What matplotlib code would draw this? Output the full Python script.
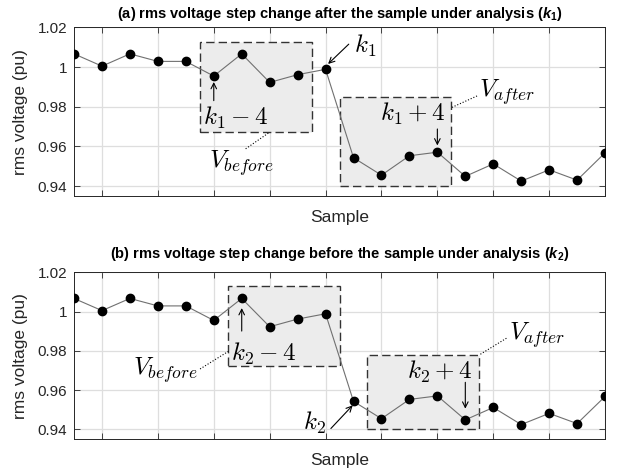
import numpy as np
import matplotlib
matplotlib.use('Agg')
import matplotlib.pyplot as plt
from matplotlib.patches import Rectangle

plt.rcParams['font.family'] = 'Liberation Sans'
plt.rcParams['mathtext.fontset'] = 'cm'
plt.rcParams['mathtext.rm'] = 'Liberation Sans:bold'
plt.rcParams['mathtext.it'] = 'Liberation Sans:bold:italic'

# data (same voltage series in both panels)
samples = np.arange(20)
voltage = [1.0067, 1.0005, 1.0067, 1.0029, 1.0029, 0.9955, 1.0067, 0.9923, 0.9962, 0.9989,
           0.9543, 0.9455, 0.9553, 0.9571, 0.9449, 0.9512, 0.9425, 0.9482, 0.9430, 0.9568]
yticks = [0.94, 0.96, 0.98, 1.0, 1.02]
ytick_labels = ['0.94', '0.96', '0.98', '1', '1.02']

k1 = 9
k2 = 10

titles = [r'(a) rms voltage step change after the sample under analysis ($\mathit{k_1}$)',
          r'(b) rms voltage step change before the sample under analysis ($\mathit{k_2}$)']

fig = plt.figure(figsize=(6.2, 4.74), dpi=100)
ax1 = fig.add_axes([0.1194, 0.5865, 0.8565, 0.3555])
ax2 = fig.add_axes([0.1194, 0.0732, 0.8565, 0.3523])

dark = '#262626'
for ax, title, ty in zip([ax1, ax2], titles, [0.962, 0.4557]):
    ax.plot(samples, voltage, '-', color='#707070', lw=0.8, zorder=3)
    ax.plot(samples, voltage, 'o', color='black', ms=6, zorder=4)
    ax.set_xlim(0, 19)
    ax.set_ylim(0.935, 1.02)
    ax.set_xticks(np.arange(1, 20, 2))
    ax.set_xticklabels([])
    ax.set_yticks(yticks)
    ax.set_yticklabels(ytick_labels)
    ax.tick_params(direction='in', top=True, right=True, length=4, width=0.6,
                   colors=dark, labelsize=11, pad=5)
    ax.grid(True, color='#dedede', lw=0.9)
    ax.set_axisbelow(True)
    for s in ax.spines.values():
        s.set_color(dark)
        s.set_linewidth(0.7)
    ax.set_ylabel('rms voltage (pu)', fontsize=12.5, color=dark, labelpad=7)
    ax.set_xlabel('Sample', fontsize=12.5, color=dark, labelpad=5)
    fig.text(0.1194 + 0.8565 / 2, ty, title, fontsize=10.5, fontweight='bold',
             ha='center', va='baseline', math_fontfamily='custom')

box = dict(facecolor='#ececec', edgecolor='#333333', lw=1.0, linestyle=(0, (6, 3)), zorder=2)
arr = dict(arrowstyle='->', color='black', lw=0.8, shrinkA=0, shrinkB=0)
fs = 18

# panel (a)
ax1.add_patch(Rectangle((k1 - 4.5, 0.9675), 4, 0.045, **box))
ax1.add_patch(Rectangle((k1 + 0.5, 0.94), 4, 0.045, **box))
ax1.annotate('', xy=(9.09, 1.0016), xytext=(9.83, 1.0116), arrowprops=arr)
ax1.text(10.0, 1.0105, r'$k_1$', fontsize=fs, va='center', ha='left')
ax1.annotate('', xy=(k1 - 4, 0.9925), xytext=(k1 - 4, 0.9831), arrowprops=arr)
ax1.text(5.8, 0.9745, r'$k_1-4$', fontsize=fs, va='center', ha='center')
ax1.text(6.0, 0.9515, r'$V_{before}$', fontsize=fs, va='center', ha='center')
ax1.plot([6.14, 7.0], [0.9588, 0.9672], ':', color='black', lw=0.8)
ax1.text(15.5, 0.9875, r'$V_{after}$', fontsize=fs, va='center', ha='center')
ax1.plot([13.52, 14.44], [0.9797, 0.9856], ':', color='black', lw=0.8)
ax1.text(12.1, 0.9765, r'$k_1+4$', fontsize=fs, va='center', ha='center')
ax1.annotate('', xy=(k1 + 4, 0.9605), xytext=(k1 + 4, 0.9688), arrowprops=arr)

# panel (b)
ax2.add_patch(Rectangle((k2 - 4.5, 0.9725), 4, 0.0403, **box))
ax2.add_patch(Rectangle((k2 + 0.5, 0.94), 4, 0.038, **box))
ax2.annotate('', xy=(k2 - 4, 1.0018), xytext=(k2 - 4, 0.9901), arrowprops=arr)
ax2.text(6.8, 0.9783, r'$k_2-4$', fontsize=fs, va='center', ha='center')
ax2.text(3.27, 0.9702, r'$V_{before}$', fontsize=fs, va='center', ha='center')
ax2.plot([4.51, 5.55], [0.9708, 0.98], ':', color='black', lw=0.8)
ax2.text(16.57, 0.9878, r'$V_{after}$', fontsize=fs, va='center', ha='center')
ax2.plot([14.54, 15.5], [0.9783, 0.9867], ':', color='black', lw=0.8)
ax2.text(13.1, 0.9693, r'$k_2+4$', fontsize=fs, va='center', ha='center')
ax2.annotate('', xy=(k2 + 4, 0.9506), xytext=(k2 + 4, 0.964), arrowprops=arr)
ax2.text(8.6, 0.9435, r'$k_2$', fontsize=fs, va='center', ha='center')
ax2.annotate('', xy=(9.97, 0.9523), xytext=(9.19, 0.9405), arrowprops=arr)

fig.savefig('out.png', dpi=100)
